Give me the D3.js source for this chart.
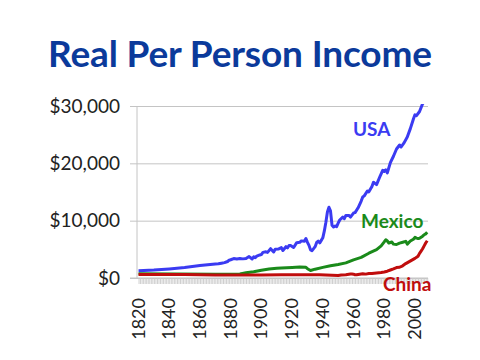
<!DOCTYPE html>
<html>
<head>
<meta charset="utf-8">
<script src="https://cdn.jsdelivr.net/npm/d3@7"></script>
<style>
  body { margin: 0; background: #fff; }
  svg { display: block; font-family: Lato, "Open Sans", sans-serif; }
</style>
</head>
<body>
<div id="chart"></div>
<script>
// [year, real income per person]
var usa = [
  [1820, 1257], [1830, 1376], [1840, 1588], [1850, 1849], [1860, 2178],
  [1870, 2445], [1872, 2469], [1874, 2576], [1876, 2679], [1878, 2880], [1879, 3102],
  [1880, 3184], [1882, 3393], [1884, 3315], [1886, 3402], [1888, 3336], [1890, 3392],
  [1892, 3741], [1894, 3317], [1895, 3691], [1896, 3549], [1897, 3811], [1899, 4024],
  [1900, 4091], [1901, 4464], [1903, 4577], [1904, 4464], [1906, 5114], [1908, 4546],
  [1909, 5016], [1911, 5046], [1913, 5301], [1914, 4799], [1916, 5459], [1917, 5248],
  [1918, 5659], [1919, 5680], [1921, 5323], [1923, 6164], [1925, 6216], [1926, 6475],
  [1928, 6409], [1929, 6899], [1930, 6213], [1931, 5691], [1932, 4908], [1933, 4777],
  [1934, 5114], [1935, 5467], [1936, 6204], [1937, 6430], [1938, 6126], [1939, 6561],
  [1940, 7010], [1941, 8206], [1942, 9741], [1943, 11518], [1944, 12333], [1945, 11709],
  [1946, 9197], [1947, 8886], [1948, 9065], [1949, 8944], [1950, 9561], [1951, 10116],
  [1953, 10613], [1954, 10359], [1955, 10897], [1957, 10920], [1958, 10631], [1960, 11328],
  [1961, 11402], [1963, 12242], [1965, 13419], [1966, 14134], [1967, 14330], [1969, 15179],
  [1970, 15030], [1972, 15944], [1973, 16689], [1975, 16284], [1977, 17567], [1979, 18789],
  [1980, 18577], [1981, 18856], [1982, 18325], [1984, 20123], [1986, 21236], [1988, 22499],
  [1990, 23201], [1991, 22849], [1993, 23616], [1995, 24603], [1997, 26054], [1999, 27744],
  [2000, 28467], [2001, 28322], [2003, 29037], [2005, 30408], [2008, 31178]
];
var mexico = [
  [1820, 759], [1870, 674], [1886, 700], [1890, 900], [1895, 1100], [1900, 1366],
  [1905, 1560], [1910, 1694], [1913, 1732], [1920, 1823], [1925, 1900], [1929, 1857],
  [1930, 1618], [1932, 1317], [1935, 1540], [1940, 1852], [1945, 2134], [1950, 2365],
  [1955, 2642], [1960, 3155], [1965, 3586], [1970, 4320], [1975, 4938], [1978, 5600],
  [1980, 6289], [1981, 6672], [1982, 6454], [1983, 6101], [1985, 6278], [1986, 5907],
  [1988, 5843], [1990, 6085], [1992, 6228], [1994, 6399], [1995, 5904], [1997, 6444],
  [1999, 6758], [2000, 7089], [2001, 6950], [2002, 6885], [2003, 6946], [2005, 7293],
  [2006, 7551], [2007, 7700], [2008, 7979]
];
var china = [
  [1820, 600], [1850, 600], [1870, 530], [1890, 540], [1900, 545], [1913, 552],
  [1929, 562], [1938, 562], [1950, 448], [1952, 538], [1955, 577], [1958, 693],
  [1959, 697], [1960, 662], [1961, 553], [1962, 550], [1965, 706], [1966, 753],
  [1968, 678], [1970, 778], [1972, 775], [1975, 874], [1978, 978], [1980, 1061],
  [1982, 1186], [1984, 1396], [1986, 1597], [1988, 1816], [1990, 1871], [1992, 2132],
  [1994, 2515], [1996, 2819], [1998, 3117], [2000, 3421], [2002, 3804], [2003, 4300],
  [2004, 4700], [2005, 5100], [2006, 5600], [2007, 6100], [2008, 6500]
];
var series = [
  { name: 'USA', data: usa, color: '#3b3bf2', lx: 353, ly: 136 },
  { name: 'Mexico', data: mexico, color: '#1a8a1a', lx: 361, ly: 228 },
  { name: 'China', data: china, color: '#c00d0d', lx: 383, ly: 291 }
];
var yTicks = [0, 10000, 20000, 30000];
var labelYears = d3.range(1820, 2001, 20);
var allYears = d3.range(1820, 2009);

var width = 480, height = 360;
var x = d3.scaleLinear().domain([1819, 2008.5]).range([137, 428]);
var y = d3.scaleLinear().domain([0, 30000]).range([278, 106]);

var svg = d3.select('#chart').append('svg')
  .attr('width', width)
  .attr('height', height);

svg.append('text')
  .attr('x', 240)
  .attr('y', 67)
  .attr('text-anchor', 'middle')
  .attr('font-size', 37)
  .attr('font-weight', 'bold')
  .attr('fill', '#0b3a9b')
  .attr('textLength', 384)
  .text('Real Per Person Income');

// gridlines + y labels
var yAxis = svg.append('g')
  .attr('transform', 'translate(428,0)')
  .call(d3.axisLeft(y).tickValues(yTicks).tickSize(298).tickFormat(function(d) { return '$' + d3.format(',')(d); }));
yAxis.select('.domain').remove();
yAxis.selectAll('.tick line').attr('stroke', '#c4c4c4');
yAxis.selectAll('.tick text')
  .attr('font-size', 19)
  .attr('font-family', 'Lato, sans-serif')
  .attr('fill', '#222')
  .attr('x', -308);

svg.append('line')
  .attr('x1', 137).attr('x2', 137)
  .attr('y1', 106).attr('y2', 278)
  .attr('stroke', '#c4c4c4');

// dense category ticks
var xTicks = svg.append('g')
  .attr('transform', 'translate(0,278)')
  .call(d3.axisBottom(x).tickValues(allYears).tickSize(6).tickFormat(''));
xTicks.select('.domain').remove();
xTicks.selectAll('.tick line').attr('stroke', '#cfcfcf');

svg.append('line')
  .attr('x1', 130).attr('x2', 428)
  .attr('y1', 278).attr('y2', 278)
  .attr('stroke', '#c4c4c4');

svg.selectAll('.year')
  .data(labelYears)
  .enter().append('text')
  .attr('class', 'year')
  .attr('transform', function(d) { return 'translate(' + (x(d) + 6) + ',298) rotate(-90)'; })
  .attr('text-anchor', 'end')
  .attr('font-size', 18)
  .attr('fill', '#222')
  .text(function(d) { return d; });

svg.append('clipPath').attr('id', 'plot')
  .append('rect').attr('x', 130).attr('y', 104).attr('width', 300).attr('height', 190);

var line = d3.line()
  .x(function(d) { return x(d[0]); })
  .y(function(d) { return y(d[1]); });

svg.append('g').attr('clip-path', 'url(#plot)')
  .selectAll('path')
  .data(series)
  .enter().append('path')
  .attr('d', function(s) { return line(s.data); })
  .attr('fill', 'none')
  .attr('stroke', function(s) { return s.color; })
  .attr('stroke-width', 3)
  .attr('stroke-linejoin', 'round');

svg.selectAll('.lbl')
  .data(series)
  .enter().append('text')
  .attr('class', 'lbl')
  .attr('x', function(s) { return s.lx; })
  .attr('y', function(s) { return s.ly; })
  .attr('font-size', 19)
  .attr('font-weight', 'bold')
  .attr('fill', function(s) { return s.color; })
  .text(function(s) { return s.name; });
</script>
</body>
</html>
